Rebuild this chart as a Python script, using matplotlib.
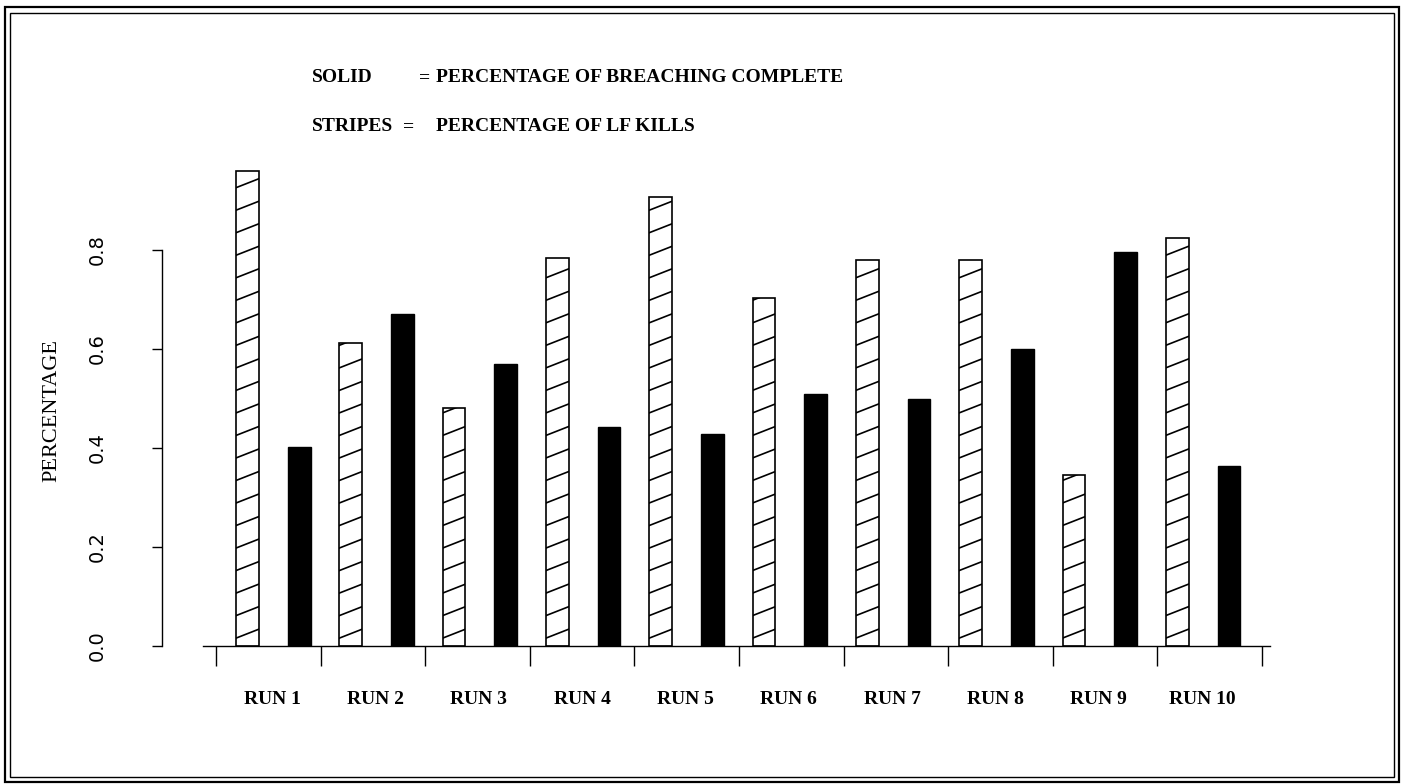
import numpy as np
import matplotlib
matplotlib.use("Agg")
import matplotlib.pyplot as plt
from matplotlib import font_manager
from matplotlib.patches import Rectangle

runs = ["RUN 1", "RUN 2", "RUN 3", "RUN 4", "RUN 5",
        "RUN 6", "RUN 7", "RUN 8", "RUN 9", "RUN 10"]
# striped bars: percentage of LF kills
lf_kills = [0.96, 0.612, 0.481, 0.784, 0.908, 0.703, 0.780, 0.780, 0.345, 0.824]
# solid bars: percentage of breaching complete
breaching = [0.402, 0.671, 0.570, 0.442, 0.429, 0.509, 0.499, 0.600, 0.796, 0.364]
yticks = [0.0, 0.2, 0.4, 0.6, 0.8]
ytick_labels = ["0.0", "0.2", "0.4", "0.6", "0.8"]

serif = "Liberation Serif"
names = {f.name for f in font_manager.fontManager.ttflist}
narrow = "Liberation Sans Narrow" if "Liberation Sans Narrow" in names else "DejaVu Sans"

W, H = 1406, 784
PT = 72 / 100  # points per pixel
fig = plt.figure(figsize=(W / 100, H / 100), dpi=100)
ax = fig.add_axes([203 / W, (H - 646) / H, 1067 / W, 495 / H])

x = np.arange(len(runs))
bw = 0.22
hbars = ax.bar(x, lf_kills, width=bw, color="white", edgecolor="black", linewidth=1.2)
ax.bar(x + 0.5, breaching, width=bw, color="black", edgecolor="black", linewidth=1.0)

# shallow stripes inside the LF-kill bars
for p in hbars:
    x0, w, h = p.get_x(), p.get_width(), p.get_height()
    for y0 in np.arange(0.025, h + 0.02, 0.0455):
        ln, = ax.plot([x0, x0 + w], [y0 - 0.009, y0 + 0.009], color="black", lw=1.2)
        ln.set_clip_path(p)

ax.set_xlim(-0.431, 9.898)
ax.set_ylim(0, 1)

for s in ["top", "right"]:
    ax.spines[s].set_visible(False)
ax.spines["left"].set_position(("outward", 41 * PT))
ax.spines["left"].set_bounds(0, 0.8)
ax.spines["left"].set_linewidth(1.0)
ax.spines["bottom"].set_linewidth(1.0)

ax.set_yticks(yticks)
ax.set_yticklabels(ytick_labels, rotation=90, va="center", ha="center",
                   fontsize=14, family=narrow)
ax.tick_params(axis="y", direction="out", length=10 * PT, width=1.0, pad=55 * PT)

# group boundary ticks
ax.set_xticks(-0.305 + np.arange(len(runs) + 1) * 1.0126)
ax.set_xticklabels([])
ax.tick_params(axis="x", direction="out", length=20 * PT, width=1.0)

trans = ax.get_xaxis_transform()
for i, r in enumerate(runs):
    ax.text(i + 0.24, -0.109, r, transform=trans, ha="center", va="center",
            fontsize=14, family=serif, fontweight="bold")

ax.set_ylabel("PERCENTAGE", fontsize=16, family=serif)
ax.yaxis.set_label_coords(-0.133, 0.475)

# key text at the top
for lab, eqx, desc, yb in [("SOLID", 419, "PERCENTAGE OF BREACHING COMPLETE", 82),
                           ("STRIPES", 403, "PERCENTAGE OF LF KILLS", 131)]:
    fig.text(312 / W, 1 - yb / H, lab, fontsize=14, family=serif, fontweight="bold", va="baseline")
    fig.text(eqx / W, 1 - yb / H, "=", fontsize=14, family=serif, fontweight="bold", va="baseline")
    fig.text(436 / W, 1 - yb / H, desc, fontsize=14, family=serif, fontweight="bold", va="baseline")

# double frame
fig.patches.append(Rectangle((5 / W, 1 - 782 / H), 1394 / W, 775 / H, transform=fig.transFigure,
                             fill=False, lw=1.6, ec="black"))
fig.patches.append(Rectangle((10 / W, 1 - 777 / H), 1384 / W, 764 / H, transform=fig.transFigure,
                             fill=False, lw=1.0, ec="black"))

fig.savefig("out.png", dpi=100)
